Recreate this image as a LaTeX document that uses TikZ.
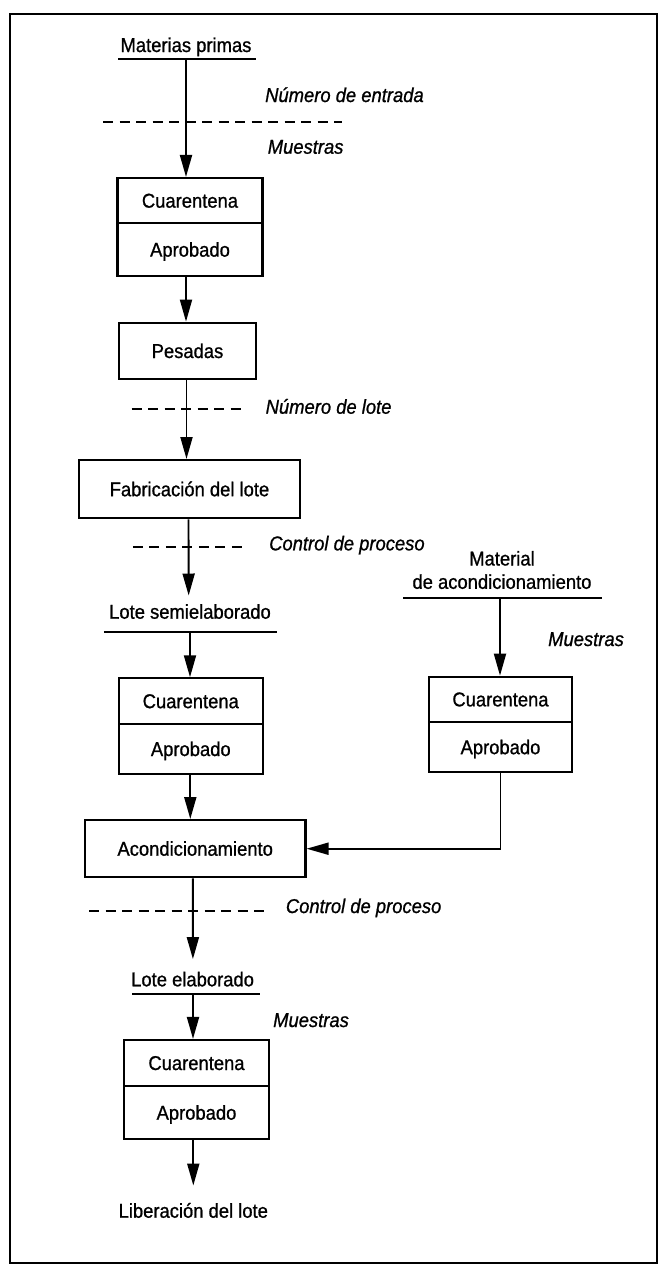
\documentclass[tikz,border=0pt]{standalone}
\usepackage{fontspec}
\setmainfont{Liberation Sans}[FakeStretch=0.92,FakeBold=0.9]
\usetikzlibrary{arrows.meta}

\begin{document}
\begin{tikzpicture}[x=1pt,y=-1pt,
  txt/.style={font=\fontsize{20}{23.3}\selectfont, inner sep=0pt, text height=14pt, text depth=0pt},
  lbl/.style={font=\fontsize{20}{23.3}\selectfont\itshape, inner sep=0pt, anchor=west, text height=14pt, text depth=0pt},
  box/.style={txt, draw, line width=2.1pt},
  flow/.style={line width=1.9pt, -{Triangle[length=22pt,width=12pt]}},
  sep/.style={line width=1.9pt, dash pattern=on 10pt off 6.5pt},
  rule/.style={line width=1.9pt},
  frame/.style={line width=2pt}
]
\useasboundingbox (0,0) rectangle (659,1278);
\draw[frame] (10,14) rectangle (657,1263);

% --- raw materials entry ---
\node[txt] (mp) at (186,45) {Materias primas};
\draw[rule] (118,59) -- (256,59);
\coordinate (mpo) at (186,59);
\draw[sep] (103,121.7) -- (342,121.7);
\node[lbl] (ne) at (265,95) {Número de entrada};
\node[lbl] (m1) at (267.6,146.7) {Muestras};

\node[box, minimum width=145pt, minimum height=45.3pt] (q1c) at (190,200.65) {Cuarentena};
\node[box, minimum width=145pt, minimum height=52.7pt] (q1a) at (190,249.65) {Aprobado};
\draw[flow] (mpo) -- (mpo |- q1c.north);

% --- weighing and manufacture ---
\node[box, minimum width=137pt, minimum height=56.6pt] (pes) at (187.5,351) {Pesadas};
\draw[flow] (q1a.south -| mpo) -- (pes.north -| mpo);

\node[box, minimum width=221pt, minimum height=58.3pt] (fab) at (189.5,489.2) {Fabricación del lote};
\draw[flow] ([xshift=-1pt]pes.south) -- ([xshift=-3pt]fab.north);
\draw[sep] (131.5,409.3) -- (243,409.3);
\node[lbl] (nl) at (265.5,406.7) {Número de lote};

\node[txt] (ls) at (190,611.7) {Lote semielaborado};
\draw[flow, shorten >=9pt] ([xshift=-1pt]fab.south) -- ([xshift=-1.3pt]ls.north);
\draw[sep] (132.8,547.3) -- (244.5,547.3);
\node[lbl] (cp1) at (269,543.3) {Control de proceso};
\draw[rule] (103.8,632.3) -- (276.5,632.3);
\coordinate (lso) at (190,632.3);

\node[box, minimum width=143.6pt, minimum height=45.7pt] (q2c) at (190.8,701.15) {Cuarentena};
\node[box, minimum width=143.6pt, minimum height=50pt] (q2a) at (190.8,749) {Aprobado};
\draw[flow] (lso) -- (lso |- q2c.north);

% --- packaging material branch ---
\node[font=\fontsize{20}{23.3}\selectfont, inner sep=0pt, align=center] (mat) at (502,570) {Material\\de acondicionamiento};
\draw[rule] (403,597.7) -- (601.7,597.7);
\coordinate (mto) at (500,597.7);
\node[lbl] (m2) at (548,639) {Muestras};

\node[box, minimum width=143.7pt, minimum height=45.3pt] (qrc) at (500.5,699.35) {Cuarentena};
\node[box, minimum width=143.7pt, minimum height=50.3pt] (qra) at (500.5,747.15) {Aprobado};
\draw[flow] (mto) -- (mto |- qrc.north);

% --- packaging ---
\node[box, minimum width=220.6pt, minimum height=57.3pt] (ac) at (195.2,848.7) {Acondicionamiento};
\draw[flow] ([xshift=-0.5pt]q2a.south) -- ([xshift=-0.5pt]q2a.south |- ac.north);
\draw[flow] (qra.south) -- (qra.south |- ac.east) -- (ac.east);

\node[txt] (le) at (192.6,979.3) {Lote elaborado};
\draw[flow, shorten >=13pt] ([xshift=-2.3pt]ac.south) -- ([xshift=0.3pt]le.north);
\draw[sep] (89,910.7) -- (264,910.7);
\node[lbl] (cp2) at (285.7,906) {Control de proceso};
\draw[rule] (132.4,994) -- (259.7,994);
\coordinate (leo) at (193,994);
\node[lbl] (m3) at (273,1020) {Muestras};

\node[box, minimum width=145pt, minimum height=46pt] (q3c) at (196.5,1063) {Cuarentena};
\node[box, minimum width=145pt, minimum height=53.3pt] (q3a) at (196.5,1112.65) {Aprobado};
\draw[flow] (leo) -- (leo |- q3c.north);

\node[txt] (lib) at (193.3,1210.7) {Liberación del lote};
\draw[flow, shorten >=18pt] (q3a.south -| lib) -- (lib.north);
\end{tikzpicture}
\end{document}
